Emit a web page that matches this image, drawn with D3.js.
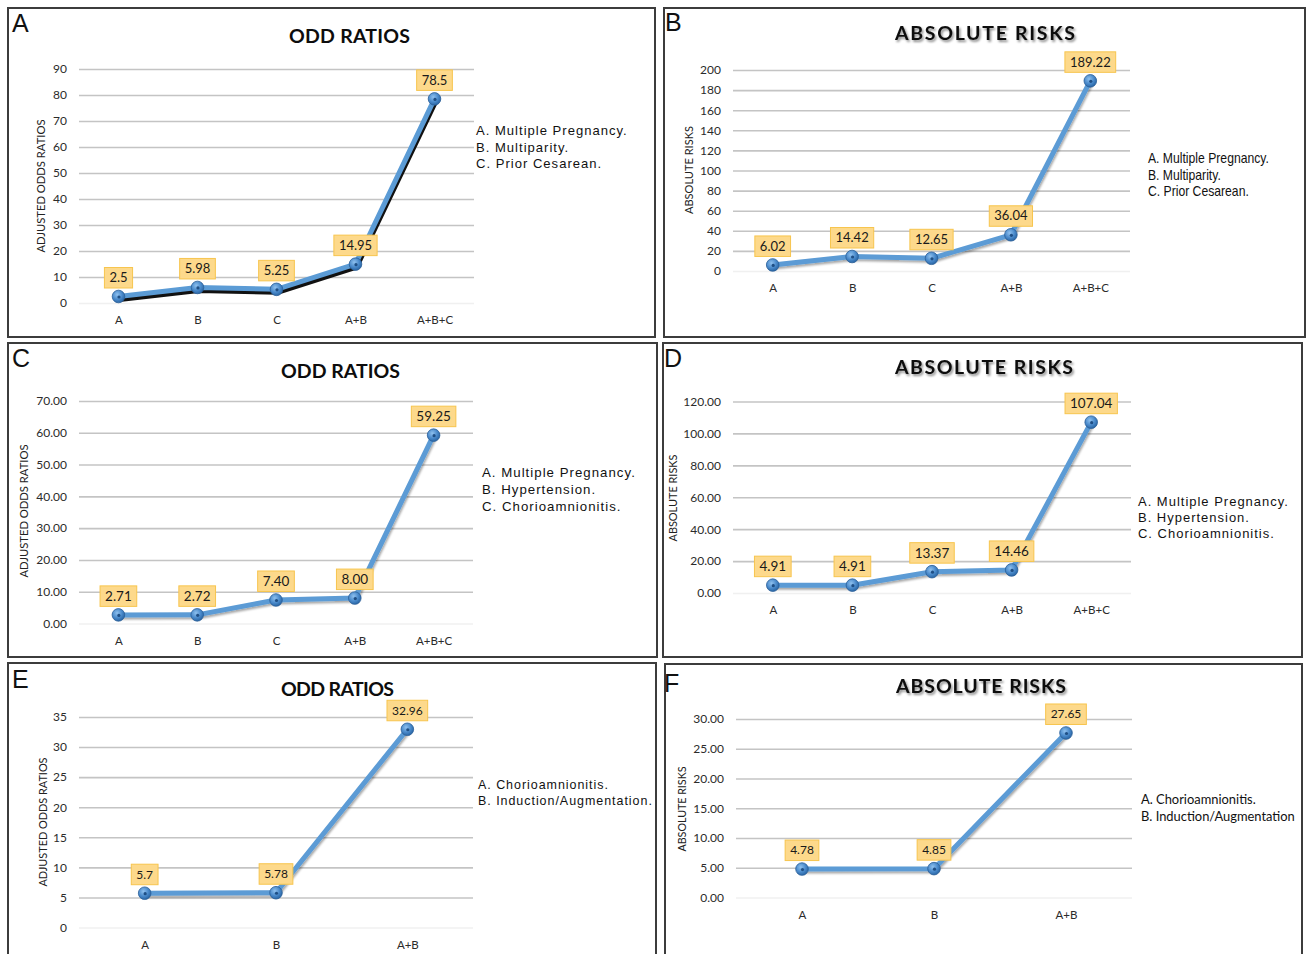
<!DOCTYPE html>
<html><head><meta charset="utf-8">
<script src="https://cdn.jsdelivr.net/npm/d3@7"></script>
<style>
body{margin:0;background:#fff;}
svg{display:block;}
</style></head><body>
<svg id="chart" width="1307" height="954"></svg>
<script>
// ---------- DATA ----------
const categories5 = ["A", "B", "C", "A+B", "A+B+C"];
const categories3 = ["A", "B", "A+B"];

const oddsRatiosA = [2.5, 5.98, 5.25, 14.95, 78.5];
const absRisksB   = [6.02, 14.42, 12.65, 36.04, 189.22];
const oddsRatiosC = [2.71, 2.72, 7.40, 8.00, 59.25];
const absRisksD   = [4.91, 4.91, 13.37, 14.46, 107.04];
const oddsRatiosE = [5.7, 5.78, 32.96];
const absRisksF   = [4.78, 4.85, 27.65];

const ticksA = [0, 10, 20, 30, 40, 50, 60, 70, 80, 90];
const ticksB = [0, 20, 40, 60, 80, 100, 120, 140, 160, 180, 200];
const ticksC = [0, 10, 20, 30, 40, 50, 60, 70];
const ticksD = [0, 20, 40, 60, 80, 100, 120];
const ticksE = [0, 5, 10, 15, 20, 25, 30, 35];
const ticksF = [0, 5, 10, 15, 20, 25, 30];

const legendAB = ["A. Multiple Pregnancy.", "B. Multiparity.", "C. Prior Cesarean."];
const legendCD = ["A. Multiple Pregnancy.", "B. Hypertension.", "C. Chorioamnionitis."];
const legendE  = ["A. Chorioamnionitis.", "B. Induction/Augmentation."];
const legendF  = ["A. Chorioamnionitis.", "B. Induction/Augmentation"];

const titleOR = "ODD RATIOS";
const titleAR = "ABSOLUTE RISKS";
const yTitleOR = "ADJUSTED ODDS RATIOS";
const yTitleAR = "ABSOLUTE RISKS";

const fmtPlain = d => String(d);
const fmt2 = d3.format(".2f");
const fmtInt = d3.format("d");

// ---------- LAYOUT ----------
const panels = [
  {letter:"A", box:[8,8,655,337], lx:12, ly:32,
   cats:categories5, vals:oddsRatiosA, ticks:ticksA, tickFmt:fmtInt, labFmt:fmtPlain,
   x0:79, x1:474, y0:303, yTop:69,
   title:titleOR, tx:349.5, ty:43, tw:121, shadowTitle:false,
   ytitle:yTitleOR, ytx:45, yty:186, ytw:133,
   legend:legendAB, legX:476, legY:135, legDy:16.6, legStyle:"spaced", legW:152,
   labSize:13, lineShadow:"black"},
  {letter:"B", box:[664,8,1305,337], lx:665, ly:31,
   cats:categories5, vals:absRisksB, ticks:ticksB, tickFmt:fmtInt, labFmt:fmt2,
   x0:733, x1:1130, y0:271, yTop:70,
   title:titleAR, tx:985, ty:39.5, tw:180, shadowTitle:true,
   ytitle:yTitleAR, ytx:693, yty:170, ytw:88,
   legend:legendAB, legX:1148, legY:163.3, legDy:16.3, legStyle:"narrow", legW:121,
   labSize:13, lineShadow:"soft"},
  {letter:"C", box:[8,343,657,657], lx:12, ly:367,
   cats:categories5, vals:oddsRatiosC, ticks:ticksC, tickFmt:fmt2, labFmt:fmt2,
   x0:79, x1:473, y0:623.5, yTop:401,
   title:titleOR, tx:340.5, ty:378, tw:119, shadowTitle:false,
   ytitle:yTitleOR, ytx:28, yty:511, ytw:133,
   legend:legendCD, legX:482, legY:477, legDy:17, legStyle:"spaced", legW:154,
   labSize:13.5, lineShadow:"soft"},
  {letter:"D", box:[663,343,1302,657], lx:664, ly:367,
   cats:categories5, vals:absRisksD, ticks:ticksD, tickFmt:fmt2, labFmt:fmt2,
   x0:733, x1:1131, y0:593, yTop:401.5,
   title:titleAR, tx:984, ty:374, tw:178, shadowTitle:true,
   ytitle:yTitleAR, ytx:677, yty:498, ytw:87,
   legend:legendCD, legX:1138, legY:505.7, legDy:16.4, legStyle:"spaced", legW:151,
   labSize:13.5, lineShadow:"soft"},
  {letter:"E", box:[8,663,656,960], lx:12, ly:688,
   cats:categories3, vals:oddsRatiosE, ticks:ticksE, tickFmt:fmtInt, labFmt:fmtPlain,
   x0:79, x1:473, y0:927.5, yTop:717,
   title:titleOR, tx:337.5, ty:696, tw:113, shadowTitle:false,
   ytitle:yTitleOR, ytx:47, yty:822, ytw:129,
   legend:legendE, legX:478, legY:789.3, legDy:16, legStyle:"spaced", legW:175,
   labSize:12, lineShadow:"soft"},
  {letter:"F", box:[665,664,1302,960], lx:664, ly:692,
   cats:categories3, vals:absRisksF, ticks:ticksF, tickFmt:fmt2, labFmt:fmt2,
   x0:736, x1:1132, y0:897.5, yTop:719,
   title:titleAR, tx:981, ty:693, tw:170, shadowTitle:true,
   ytitle:yTitleAR, ytx:686, yty:809, ytw:85,
   legend:legendF, legX:1141, legY:804, legDy:16.7, legStyle:"calibri", legW:154,
   labSize:12, lineShadow:"soft"}
];

const svg = d3.select("#chart");
const defs = svg.append("defs");

const grad = defs.append("radialGradient").attr("id","mk").attr("cx","0.4").attr("cy","0.35").attr("r","0.7");
grad.append("stop").attr("offset","0%").attr("stop-color","#8ec0ee");
grad.append("stop").attr("offset","55%").attr("stop-color","#4a8acb");
grad.append("stop").attr("offset","100%").attr("stop-color","#25609e");

const softShadow = defs.append("filter").attr("id","softShadow").attr("x","-10%").attr("y","-10%").attr("width","120%").attr("height","130%");
softShadow.append("feDropShadow").attr("dx",1).attr("dy",2).attr("stdDeviation",1.2).attr("flood-color","#000").attr("flood-opacity",0.35);

const titleShadow = defs.append("filter").attr("id","titleShadow").attr("x","-10%").attr("y","-30%").attr("width","120%").attr("height","160%");
titleShadow.append("feDropShadow").attr("dx",1.5).attr("dy",2).attr("stdDeviation",1.2).attr("flood-color","#000").attr("flood-opacity",0.45);

panels.forEach(p => {
  const g = svg.append("g");
  // border
  g.append("rect")
    .attr("x", p.box[0]).attr("y", p.box[1])
    .attr("width", p.box[2]-p.box[0]).attr("height", p.box[3]-p.box[1])
    .attr("fill","#fff").attr("stroke","#3c3c3c").attr("stroke-width",2);

  // panel letter
  g.append("text").attr("x",p.lx).attr("y",p.ly)
    .attr("font-family","'Liberation Sans', Arial, sans-serif")
    .attr("font-size",25).attr("fill","#111").text(p.letter);

  const x = d3.scalePoint().domain(p.cats).range([p.x0, p.x1]).padding(0.5);
  const yMax = p.ticks[p.ticks.length-1];
  const y = d3.scaleLinear().domain([0, yMax]).range([p.y0, p.yTop]);

  // y axis with gridlines
  const yAxis = g.append("g").attr("transform",`translate(${p.x0},0)`)
    .call(d3.axisLeft(y).tickValues(p.ticks).tickFormat(p.tickFmt)
      .tickSize(-(p.x1-p.x0)).tickPadding(12));
  yAxis.select(".domain").remove();
  yAxis.selectAll(".tick line")
    .attr("stroke", d => d === 0 ? "#f0f0f0" : "#c4c4c4")
    .attr("stroke-width", 1.6);
  yAxis.selectAll(".tick text")
    .attr("font-family","Lato, 'Open Sans', sans-serif")
    .attr("font-size",12).attr("fill","#2b2b2b");

  // x axis labels
  const xAxis = g.append("g").attr("transform",`translate(0,${p.y0})`)
    .call(d3.axisBottom(x).tickSize(0).tickPadding(13));
  xAxis.select(".domain").remove();
  xAxis.selectAll(".tick text")
    .attr("font-family","Lato, 'Open Sans', sans-serif")
    .attr("font-size",11.5).attr("fill","#2b2b2b");

  // title
  const t = g.append("text").attr("x",p.tx).attr("y",p.ty)
    .attr("text-anchor","middle")
    .attr("font-family","Lato, 'Open Sans', sans-serif")
    .attr("font-weight","bold").attr("font-size",19.5).attr("fill","#0d0d0d")
    .attr("textLength",p.tw).attr("lengthAdjust","spacing")
    .text(p.title);
  if (p.shadowTitle) t.attr("filter","url(#titleShadow)");

  // y title
  g.append("text")
    .attr("transform",`translate(${p.ytx},${p.yty}) rotate(-90)`)
    .attr("text-anchor","middle")
    .attr("font-family","Lato, 'Open Sans', sans-serif")
    .attr("font-size",10.5).attr("fill","#222")
    .attr("textLength",p.ytw).attr("lengthAdjust","spacingAndGlyphs")
    .text(p.ytitle);

  // legend
  const leg = g.append("g");
  p.legend.forEach((s,i) => {
    const tt = leg.append("text").attr("x",p.legX).attr("y",p.legY + i*p.legDy).attr("fill","#111").text(s);
    if (p.legStyle === "spaced") {
      tt.attr("font-family","'Liberation Sans', Arial, sans-serif").attr("font-size",13).attr("letter-spacing",1);
    } else if (p.legStyle === "narrow") {
      tt.attr("font-family","'Liberation Sans Narrow', 'Liberation Sans', Arial, sans-serif").attr("font-size",14);
    } else {
      tt.attr("font-family","Lato, 'Open Sans', sans-serif").attr("font-size",13);
    }
  });
  // scale legend so that its widest line matches the reference width
  let maxW = 0;
  leg.selectAll("text").each(function(){ maxW = Math.max(maxW, this.getComputedTextLength()); });
  const sc = p.legW / maxW;
  leg.attr("transform",`translate(${p.legX},0) scale(${sc},1) translate(${-p.legX},0)`);

  // line
  const pts = p.vals.map((v,i) => [x(p.cats[i]), y(v)]);
  const line = d3.line();
  if (p.lineShadow === "black") {
    g.append("path").attr("d", line(pts.map(d => [d[0]+1, d[1]+3])))
      .attr("fill","none").attr("stroke","#111").attr("stroke-width",5)
      .attr("stroke-linejoin","round").attr("stroke-linecap","round");
  }
  const lg = g.append("g");
  if (p.lineShadow === "soft") lg.attr("filter","url(#softShadow)");
  lg.append("path").attr("d", line(pts))
    .attr("fill","none").attr("stroke","#5b9bd5").attr("stroke-width",5)
    .attr("stroke-linejoin","round").attr("stroke-linecap","round");

  // markers
  pts.forEach(d => {
    g.append("circle").attr("cx",d[0]).attr("cy",d[1]).attr("r",6.3)
      .attr("fill","url(#mk)").attr("stroke","#2a5e98").attr("stroke-width",0.8);
    g.append("circle").attr("cx",d[0]+0.5).attr("cy",d[1]+0.5).attr("r",1.6)
      .attr("fill","#1f4f85");
  });

  // data labels
  p.vals.forEach((v,i) => {
    const cx = x(p.cats[i]), cy = y(v) - 19;
    const lab = g.append("g");
    const rect = lab.append("rect");
    const tx = lab.append("text").attr("x",cx).attr("y",cy).attr("dy","0.36em")
      .attr("text-anchor","middle")
      .attr("font-family","Lato, 'Open Sans', sans-serif")
      .attr("font-size",p.labSize).attr("fill","#1a1a1a")
      .text(p.labFmt(v));
    const w = tx.node().getComputedTextLength() + 10;
    rect.attr("x",cx - w/2).attr("y",cy - 10).attr("width",w).attr("height",20.5)
      .attr("fill","#fdd98b").attr("stroke","#f7c54e").attr("stroke-width",1);
  });
});
</script>
</body></html>
